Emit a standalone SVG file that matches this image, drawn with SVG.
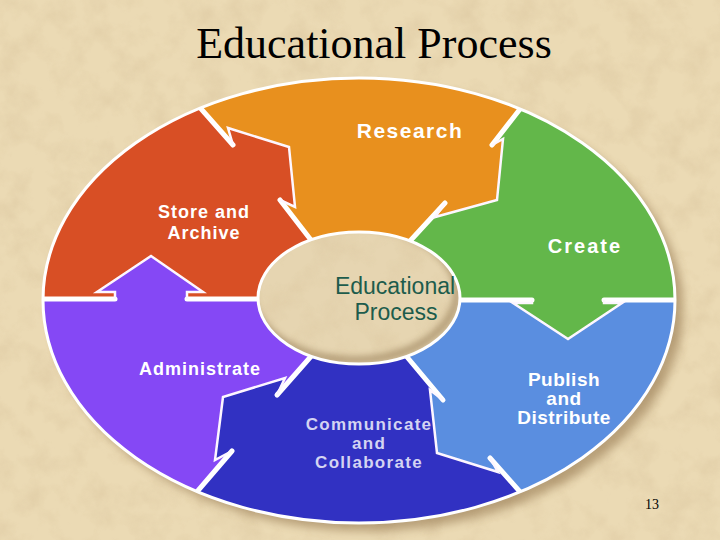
<svg xmlns="http://www.w3.org/2000/svg" width="720" height="540" viewBox="0 0 720 540">
<style>
.lbl{font-family:"Liberation Sans",Arial,sans-serif;font-weight:bold;fill:#ffffff;text-anchor:middle}
.ctr{font-family:"Liberation Sans",Arial,sans-serif;fill:#1d5c4c;text-anchor:middle;font-size:23px}
.thick{stroke:#ffffff;stroke-width:5;fill:none;stroke-linecap:round}
.thin{stroke:#fdf6ff;stroke-width:2.5;fill:none;stroke-linejoin:miter}
</style>
<defs>
<filter id="paper" x="0" y="0" width="100%" height="100%">
<feTurbulence type="fractalNoise" baseFrequency="0.035" numOctaves="4" seed="7" result="n"/>
<feColorMatrix in="n" type="matrix" values="0 0 0 0 0.72  0 0 0 0 0.58  0 0 0 0 0.36  1.8 0 0 0 -0.75"/>
</filter>
<filter id="blur" x="-10%" y="-10%" width="120%" height="120%"><feGaussianBlur stdDeviation="5"/></filter>
<filter id="blur2" x="-10%" y="-10%" width="120%" height="120%"><feGaussianBlur stdDeviation="3"/></filter>
<clipPath id="ring"><path d="M43,300 A316,222 0 0 1 675,300 A316,223 0 0 1 43,300 Z"/></clipPath>
<clipPath id="hole"><ellipse cx="359" cy="298" rx="101" ry="66"/></clipPath>
</defs>

<g id="background">
<rect width="720" height="540" fill="#ebdab4"/>
<rect width="720" height="540" filter="url(#paper)" opacity="0.7"/>
</g>

<text x="374" y="58" font-family="Liberation Serif,'Times New Roman',serif" font-size="44" text-anchor="middle" fill="#000">Educational Process</text>

<path d="M51,308 A316,222 0 0 1 683,308 A316,223 0 0 1 51,308 Z" fill="#7a5a30" opacity="0.45" filter="url(#blur)"/>

<g clip-path="url(#ring)">
<g id="research"><polygon fill="#e8901e" points="165,68 198,107 233,145 228,128 289,147 295,207 280,200 308,238 359,299 412,238 445,203 435,217 497,200 503,139 492,145 520,107 552,68 560,0 160,0"/></g>
<g id="create"><polygon fill="#63b74a" points="552,68 520,107 492,145 503,139 497,200 435,217 445,203 412,238 359,299 458,300 532,300 532,303 513,303 568,339 622,303 604,303 604,300 675,300 720,300 720,0 560,0"/></g>
<g id="publish"><polygon fill="#5a8ee0" points="720,300 675,300 604,300 604,303 622,303 568,339 513,303 532,303 532,300 458,300 359,299 410,360 443,400 430,390 437,453 498,472 490,458 520,490 553,529 553,540 720,540"/></g>
<g id="communicate"><polygon fill="#3131c2" points="553,529 520,490 490,458 498,472 437,453 430,390 443,400 410,360 359,299 308,360 277,395 285,378 223,397 215,460 232,451 198,490 165,529 165,540 553,540"/></g>
<g id="administrate"><polygon fill="#8548f5" points="165,529 198,490 232,451 215,460 223,397 285,378 277,395 308,360 359,299 258,299 187,299 187,292 203,292 151,256 97,292 115,292 115,299 43,299 0,299 0,540 165,540"/></g>
<g id="store"><polygon fill="#d84f25" points="0,299 43,299 115,299 115,292 97,292 151,256 203,292 187,292 187,299 258,299 359,299 308,238 280,200 295,207 289,147 228,128 233,145 198,107 165,68 160,0 0,0"/></g>

<g id="connectors">
<line class="thick" x1="165" y1="68" x2="233" y2="145"/><line class="thick" x1="280" y1="200" x2="321" y2="253"/>
<polyline class="thin" points="233,145 228,128 289,147 295,207 280,200"/>
<line class="thick" x1="552" y1="68" x2="492" y2="145"/><line class="thick" x1="445" y1="203" x2="399" y2="253"/>
<polyline class="thin" points="492,145 503,139 497,200 435,217 445,203"/>
<line class="thick" x1="720" y1="300" x2="604" y2="300"/><line class="thick" x1="532" y1="300" x2="440" y2="300"/>
<polyline class="thin" points="604,300 604,303 622,303 568,339 513,303 532,303 532,300"/>
<line class="thick" x1="553" y1="529" x2="490" y2="458"/><line class="thick" x1="443" y1="400" x2="397" y2="345"/>
<polyline class="thin" points="490,458 498,472 437,453 430,390 443,400"/>
<line class="thick" x1="165" y1="529" x2="232" y2="451"/><line class="thick" x1="277" y1="395" x2="321" y2="345"/>
<polyline class="thin" points="232,451 215,460 223,397 285,378 277,395"/>
<line class="thick" x1="0" y1="299" x2="115" y2="299"/><line class="thick" x1="187" y1="299" x2="275" y2="299"/>
<polyline class="thin" points="115,299 115,292 97,292 151,256 203,292 187,292 187,299"/>
</g>
</g>
<path d="M43,300 A316,222 0 0 1 675,300 A316,223 0 0 1 43,300 Z" fill="none" stroke="#ffffff" stroke-width="3"/>

<g id="center">
<ellipse cx="359" cy="298" rx="101" ry="66" fill="#e6d5b1"/>
<g clip-path="url(#hole)">
<rect x="250" y="225" width="220" height="145" filter="url(#paper)" opacity="0.6"/>
<ellipse cx="354" cy="292" rx="103" ry="68" fill="none" stroke="#8a7048" stroke-width="8" opacity="0.5" filter="url(#blur2)"/>
</g>
<ellipse cx="359" cy="298" rx="101" ry="66" fill="none" stroke="#ffffff" stroke-width="3"/>
<text class="ctr" x="395" y="294">Educational</text>
<text class="ctr" x="396" y="320">Process</text>
</g>

<g id="labels">
<text class="lbl" x="410" y="138" font-size="21" letter-spacing="1.5">Research</text>
<text class="lbl" x="204" y="218" font-size="18" letter-spacing="1">Store and</text>
<text class="lbl" x="204" y="239" font-size="18" letter-spacing="1">Archive</text>
<text class="lbl" x="585" y="253" font-size="20" letter-spacing="2">Create</text>
<text class="lbl" x="200" y="375" font-size="18" letter-spacing="1">Administrate</text>
<text class="lbl" x="564" y="386" font-size="19" letter-spacing="0.5">Publish</text>
<text class="lbl" x="564" y="405" font-size="19" letter-spacing="0.5">and</text>
<text class="lbl" x="564" y="424" font-size="19" letter-spacing="0.5">Distribute</text>
<text class="lbl" x="369" y="430" font-size="17" letter-spacing="1.3" style="fill:#d4d4f2">Communicate</text>
<text class="lbl" x="369" y="449" font-size="17" letter-spacing="1.3" style="fill:#d4d4f2">and</text>
<text class="lbl" x="369" y="468" font-size="17" letter-spacing="1.3" style="fill:#d4d4f2">Collaborate</text>
</g>

<text x="652" y="509" font-family="Liberation Serif,'Times New Roman',serif" font-size="14" text-anchor="middle" fill="#000">13</text>
</svg>
